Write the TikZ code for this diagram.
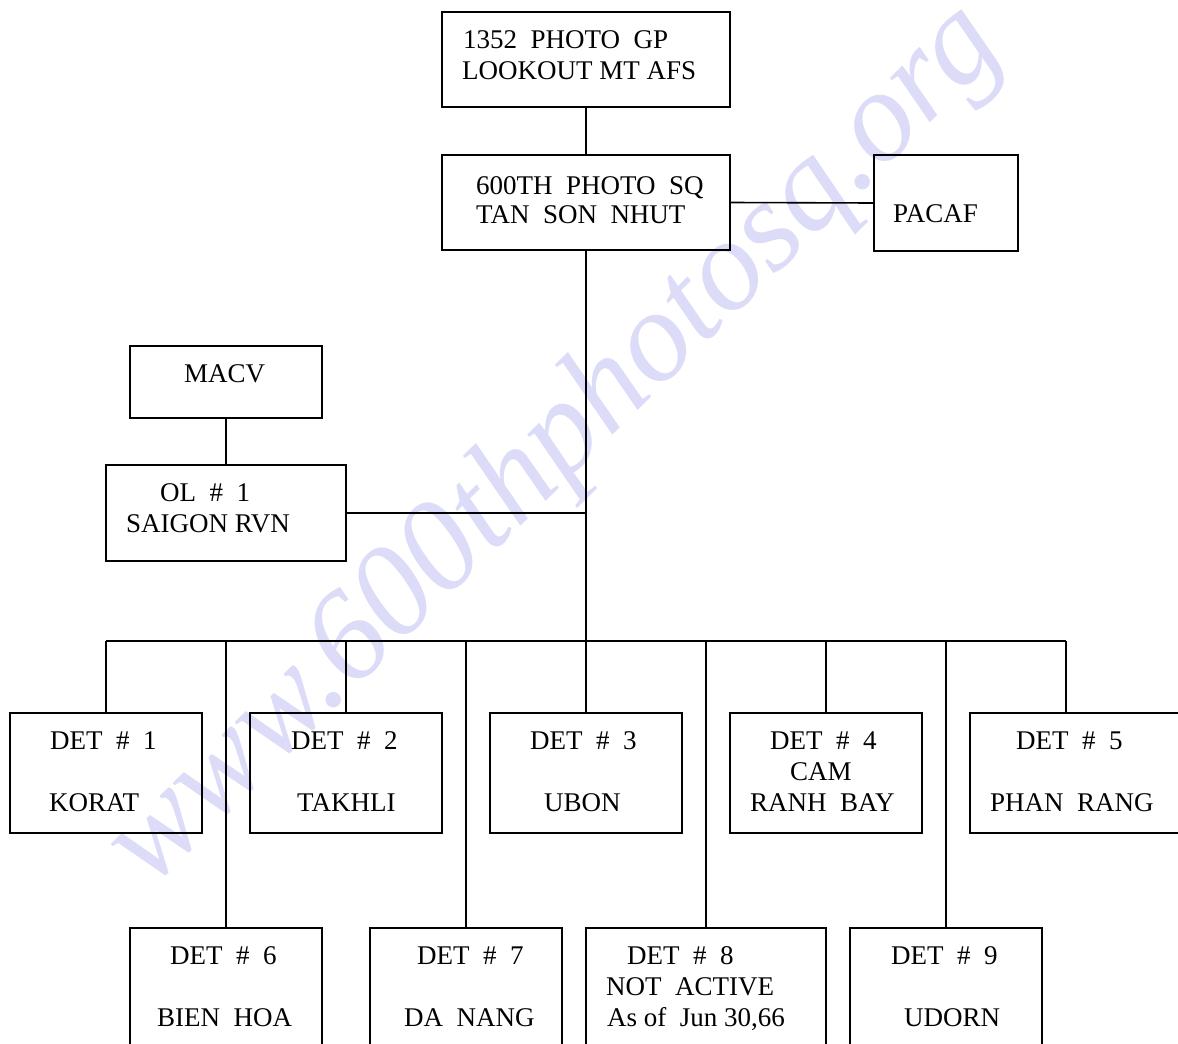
\documentclass[tikz,border=0pt]{standalone}
\usepackage{fontspec}
\setmainfont{Liberation Serif}
\definecolor{wmcol}{RGB}{220,220,248}
\tikzset{
  box/.style={draw=black, line width=1.6pt, rectangle, inner sep=0pt},
  conn/.style={draw=black, line width=1.6pt},
  lbl/.style={anchor=base west, inner sep=0pt, font=\fontsize{27}{31}\selectfont},
  wmark/.style={text=wmcol, rotate=44.5, inner sep=0pt, font=\fontsize{130}{130}\selectfont\itshape}
}
\begin{document}
\begin{tikzpicture}[x=1pt,y=-1pt]
\useasboundingbox (0,0) rectangle (1178,1044);
\clip (0,0) rectangle (1178,1044);
\fill[white] (0,0) rectangle (1178,1044);
% watermark
\node[wmark] (wm) at (556,447) {www.600thphotosq.org};
% boxes
\node[box, minimum width=288pt, minimum height=95pt] (gp) at (586,59.5) {};
\node[box, minimum width=288pt, minimum height=95pt] (sq) at (586,202.5) {};
\node[box, minimum width=144pt, minimum height=96pt] (pacaf) at (946,203) {};
\node[box, minimum width=192pt, minimum height=72pt] (macv) at (226,382) {};
\node[box, minimum width=240pt, minimum height=96pt] (ol) at (226,513) {};
\node[box, minimum width=192pt, minimum height=120pt] (d1) at (106,773) {};
\node[box, minimum width=192pt, minimum height=120pt] (d2) at (346,773) {};
\node[box, minimum width=192pt, minimum height=120pt] (d3) at (586,773) {};
\node[box, minimum width=192pt, minimum height=120pt] (d4) at (826,773) {};
\node[box, minimum width=240pt, minimum height=120pt] (d5) at (1090,773) {};
\node[box, minimum width=192pt, minimum height=140pt] (d6) at (226,998) {};
\node[box, minimum width=192pt, minimum height=140pt] (d7) at (466,998) {};
\node[box, minimum width=240pt, minimum height=140pt] (d8) at (706,998) {};
\node[box, minimum width=192pt, minimum height=140pt] (d9) at (946,998) {};
% bus coordinates
\coordinate (trunk) at (586,641);
\coordinate (b1) at (106,641);
\coordinate (b6) at (226,641);
\coordinate (b2) at (346,641);
\coordinate (b7) at (466,641);
\coordinate (b8) at (706,641);
\coordinate (b4) at (826,641);
\coordinate (b9) at (946,641);
\coordinate (b5) at (1066,641);
% connectors
\draw[conn] (gp.south) -- (sq.north);
\draw[conn] (sq.east) -- (pacaf.west);
\draw[conn] (macv.south) -- (ol.north);
\draw[conn] (sq.south) -- (trunk);
\draw[conn] (ol.east) -- (ol.east -| trunk);
\draw[conn] (b1) -- (b5);
\draw[conn] (b1) -- (d1.north);
\draw[conn] (b2) -- (d2.north);
\draw[conn] (trunk) -- (d3.north);
\draw[conn] (b4) -- (d4.north);
\draw[conn] (b5) -- (b5 |- d5.north);
\draw[conn] (b6) -- (d6.north);
\draw[conn] (b7) -- (d7.north);
\draw[conn] (b8) -- (d8.north);
\draw[conn] (b9) -- (d9.north);
% labels
\node[lbl] (tgp1) at (463,48) {1352\ \ PHOTO\ \ GP};
\node[lbl] (tgp2) at (462,79) {LOOKOUT MT AFS};
\node[lbl] (tsq1) at (476,194) {600TH\ \ PHOTO\ \ SQ};
\node[lbl] (tsq2) at (476,223) {TAN\ \ SON\ \ NHUT};
\node[lbl] (tpac) at (893,222) {PACAF};
\node[lbl] (tmacv) at (184,382) {MACV};
\node[lbl] (tol1) at (160,501) {OL\ \ \#\ \ 1};
\node[lbl] (tol2) at (126,532) {SAIGON RVN};
\node[lbl] (td1a) at (50,749) {DET\ \ \#\ \ 1};
\node[lbl] (td1b) at (49,811) {KORAT};
\node[lbl] (td2a) at (291,749) {DET\ \ \#\ \ 2};
\node[lbl] (td2b) at (297,811) {TAKHLI};
\node[lbl] (td3a) at (530,749) {DET\ \ \#\ \ 3};
\node[lbl] (td3b) at (544,811) {UBON};
\node[lbl] (td4a) at (770,749) {DET\ \ \#\ \ 4};
\node[lbl] (td4b) at (790,780) {CAM};
\node[lbl] (td4c) at (750,811) {RANH\ \ BAY};
\node[lbl] (td5a) at (1016,749) {DET\ \ \#\ \ 5};
\node[lbl] (td5b) at (990,811) {PHAN\ \ RANG};
\node[lbl] (td6a) at (170,964) {DET\ \ \#\ \ 6};
\node[lbl] (td6b) at (157,1026) {BIEN\ \ HOA};
\node[lbl] (td7a) at (417,964) {DET\ \ \#\ \ 7};
\node[lbl] (td7b) at (404,1026) {DA\ \ NANG};
\node[lbl] (td8a) at (627,964) {DET\ \ \#\ \ 8};
\node[lbl] (td8b) at (606,995) {NOT\ \ ACTIVE};
\node[lbl] (td8c) at (607,1026) {As of\ \ Jun 30,66};
\node[lbl] (td9a) at (891,964) {DET\ \ \#\ \ 9};
\node[lbl] (td9b) at (904,1026) {UDORN};
\end{tikzpicture}
\end{document}
